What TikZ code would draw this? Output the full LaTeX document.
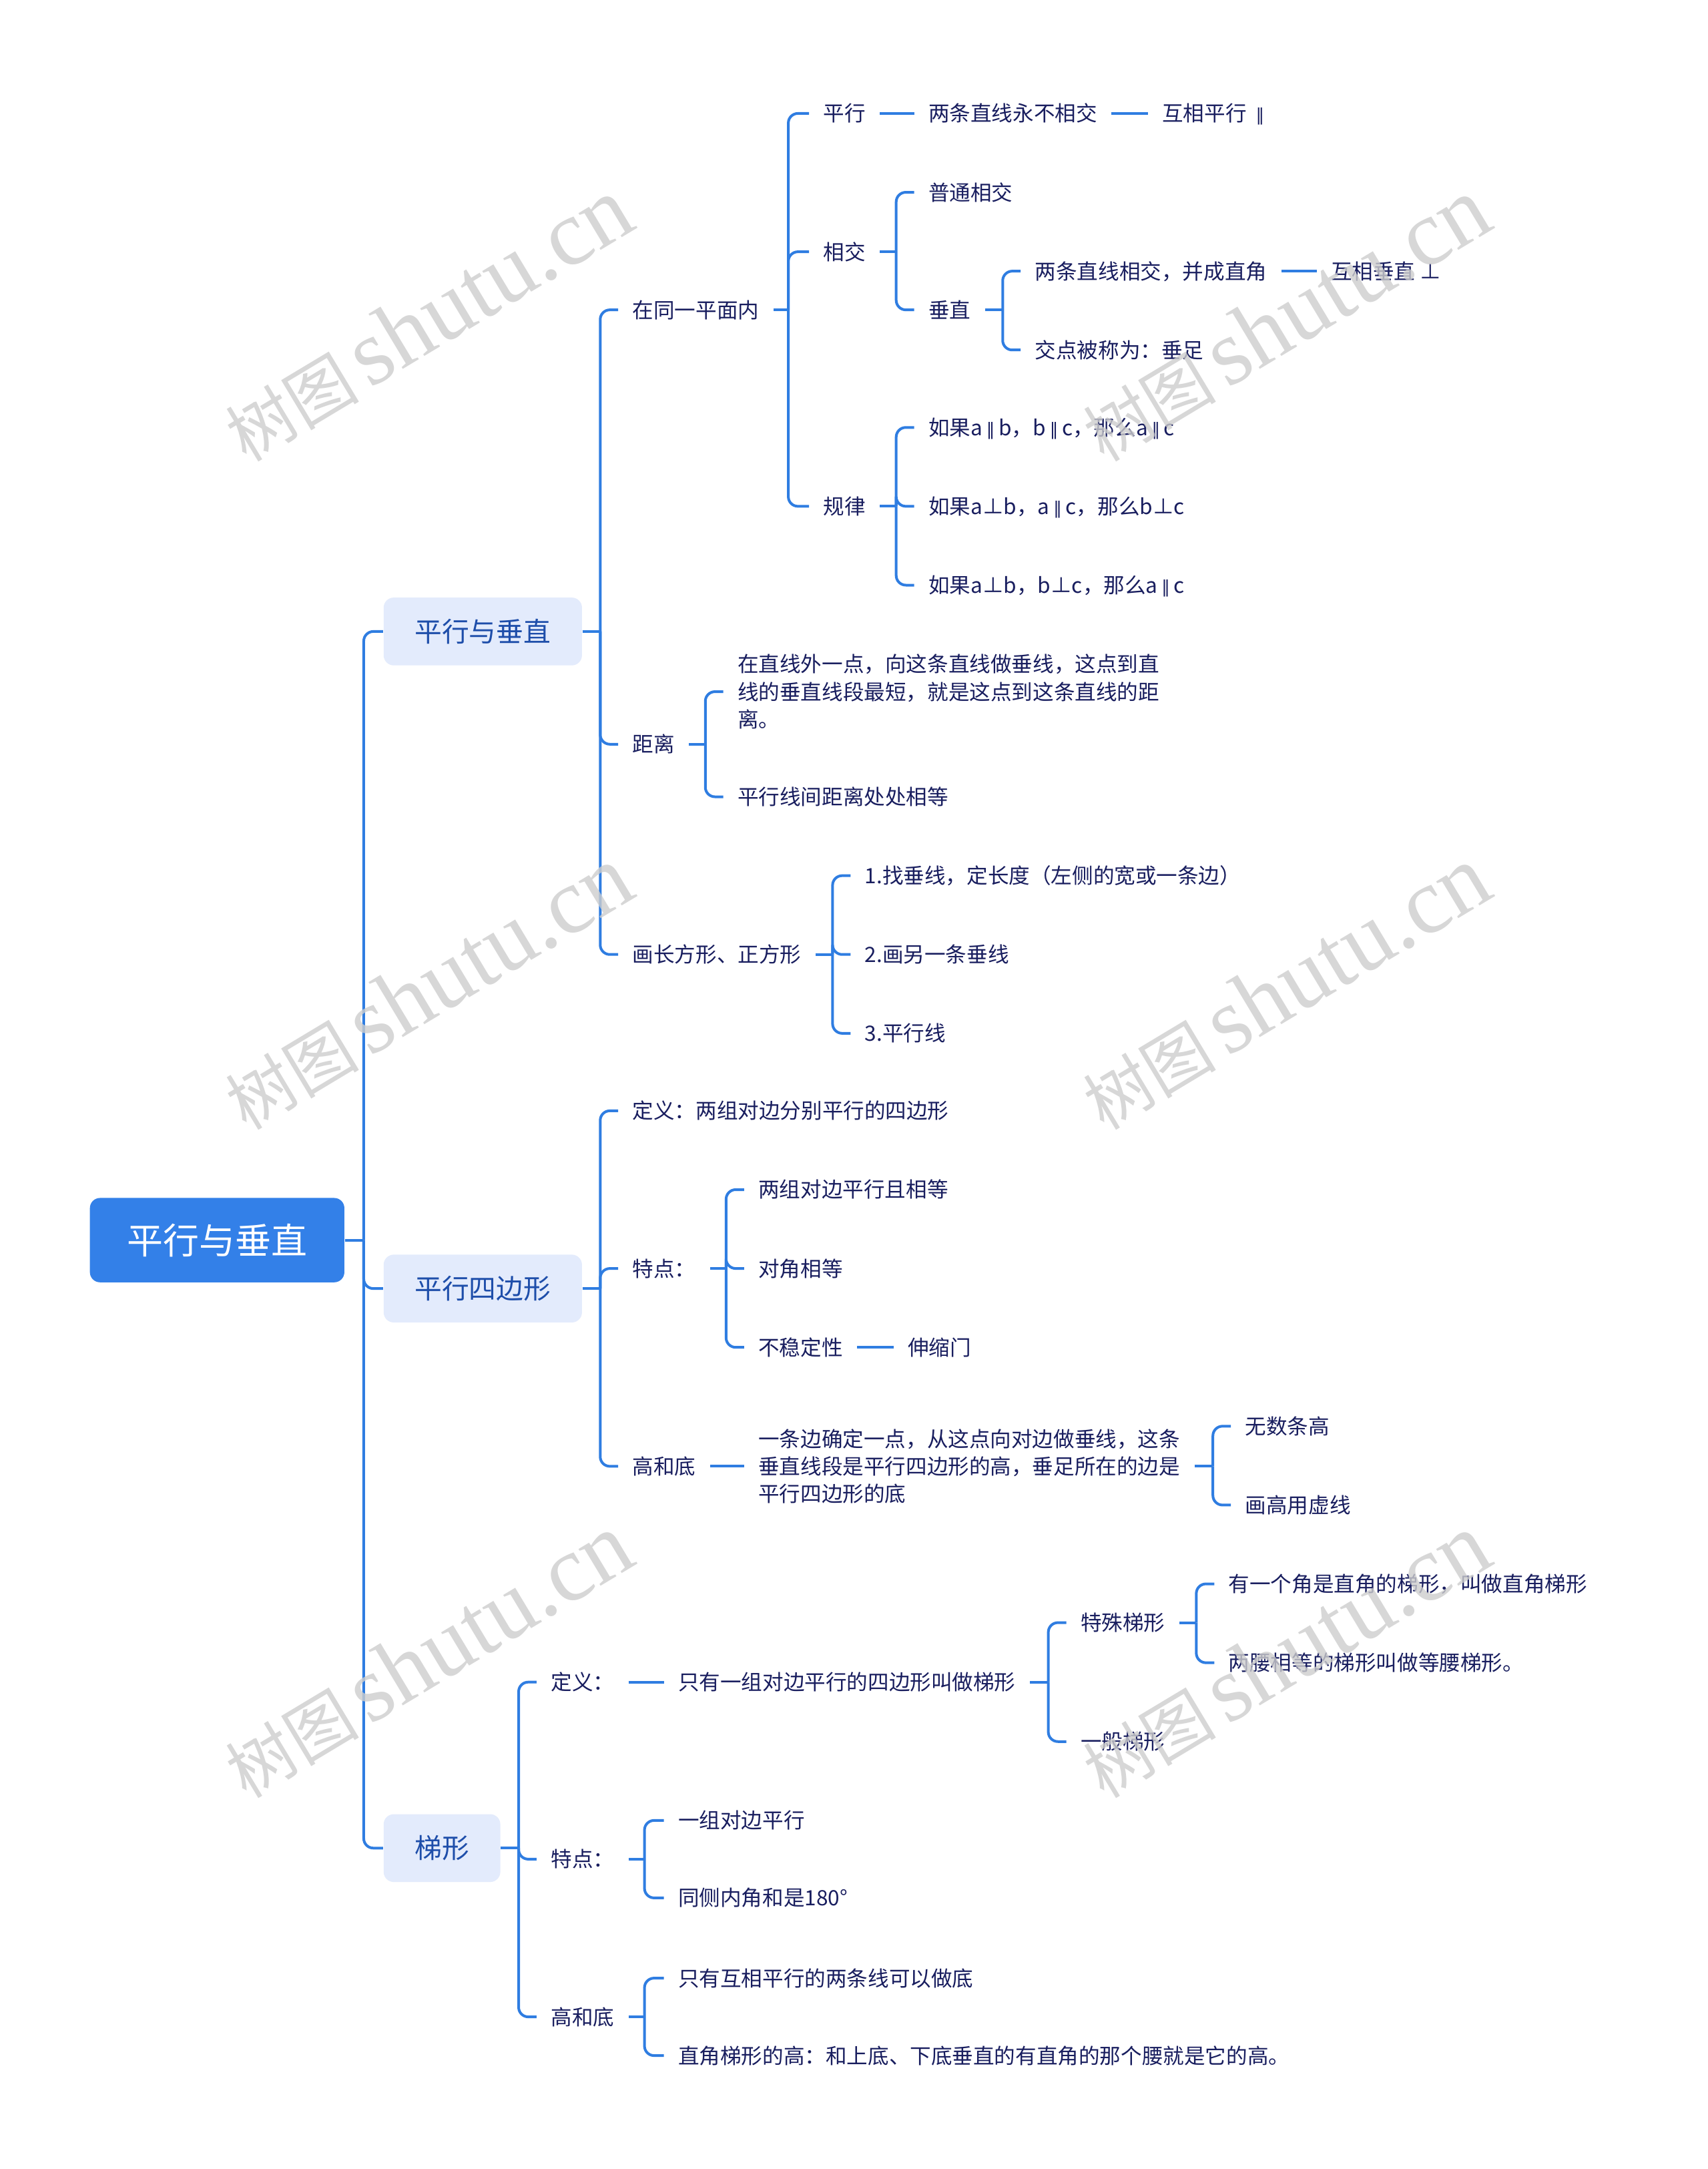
\documentclass[tikz,border=0pt]{standalone}
\usepackage{fontspec}
\setmainfont{Noto Sans CJK SC}
\newfontfamily\wmcjk{Noto Sans CJK SC}
\newfontfamily\wmlat{Liberation Serif}
\newfontfamily\symf{DejaVu Sans}
\newcommand{\pll}{\hspace{1.4pt}{\symf\fontsize{6.5pt}{8pt}\selectfont ∥}\hspace{1.4pt}}
\usetikzlibrary{calc}
\definecolor{lineblue}{RGB}{47,125,225}
\definecolor{rootblue}{RGB}{51,128,232}
\definecolor{subfill}{RGB}{227,235,252}
\definecolor{subtext}{RGB}{30,78,170}
\definecolor{leaftext}{RGB}{25,30,95}
\definecolor{wmgray}{RGB}{205,205,205}
\begin{document}
\begin{tikzpicture}[x=0.5182pt,y=-0.5182pt,
  conn/.style={draw=lineblue,line width=1pt,rounded corners=3.6pt},
  rootnode/.style={fill=rootblue,text=white,rounded corners=3.8pt,
    font=\fontsize{13.5pt}{16pt}\selectfont,minimum width=95.35pt,minimum height=31.6pt,
    inner sep=0pt,text height=11.88pt,text depth=1.62pt},
  subnode/.style={fill=subfill,text=subtext,rounded corners=3.8pt,anchor=west,
    font=\fontsize{10.2pt}{12pt}\selectfont,minimum height=25.4pt,
    inner xsep=11.66pt,inner ysep=0pt,text height=8.98pt,text depth=1.22pt},
  leaf/.style={text=leaftext,font=\fontsize{7.9pt}{10.36pt}\selectfont,
    inner xsep=5.18pt,inner ysep=1pt,anchor=west,text height=6.95pt,text depth=0.95pt},
  multi/.style={text=leaftext,font=\fontsize{7.9pt}{10.36pt}\selectfont,
    inner xsep=5.18pt,inner ysep=1pt,anchor=west,align=left},
  wm/.style={text=wmgray,opacity=0.8,rotate=31,anchor=base west,inner sep=0pt}
]
\fill[white] (0,0) rectangle (1235,1568);
\useasboundingbox (0,0) rectangle (1235,1568);

% root and level 1
\node[rootnode] (root) at (157,896.5) {平行与垂直};
\node[subnode] (A) at (277,456.5) {平行与垂直};
\node[subnode] (B) at (277,931.5) {平行四边形};
\node[subnode] (C) at (277,1336) {梯形};
\coordinate (r0) at (263,896.5);
\draw[conn] (root.east) -- (r0);
\draw[conn] (r0) |- (A.west);
\draw[conn] (r0) |- (B.west);
\draw[conn] (r0) |- (C.west);

% ---------- A ----------
\node[leaf] (a1) at (447,224) {在同一平面内};
\node[leaf] (a2) at (447,538) {距离};
\node[leaf] (a3) at (447,690) {画长方形、正方形};
\coordinate (a0) at (434,456.5);
\draw[conn] (A.east) -- (a0);
\foreach \n in {a1,a2,a3} \draw[conn] (a0) |- (\n.west);

\node[leaf] (p1) at (585,82) {平行};
\node[leaf] (p2) at (585,182) {相交};
\node[leaf] (p3) at (585,366) {规律};
\coordinate (a1b) at (570,224);
\draw[conn] (a1.east) -- (a1b);
\foreach \n in {p1,p2,p3} \draw[conn] (a1b) |- (\n.west);

\node[leaf] (q1) at (661,82) {两条直线永不相交};
\node[leaf] (q2) at (830,82) {互相平行\hspace{2pt}\pll};
\draw[conn] (p1.east) -- (q1.west);
\draw[conn] (q1.east) -- (q2.west);

\node[leaf] (r1) at (661,139) {普通相交};
\node[leaf] (r2) at (661,224) {垂直};
\coordinate (p2b) at (648,182);
\draw[conn] (p2.east) -- (p2b);
\foreach \n in {r1,r2} \draw[conn] (p2b) |- (\n.west);

\node[leaf] (s1) at (738,196) {两条直线相交，并成直角};
\node[leaf] (s2) at (738,253) {交点被称为：垂足};
\node[leaf] (s3) at (952,196) {互相垂直 ⊥};
\coordinate (r2b) at (725,224);
\draw[conn] (r2.east) -- (r2b);
\foreach \n in {s1,s2} \draw[conn] (r2b) |- (\n.west);
\draw[conn] (s1.east) -- (s3.west);

\node[leaf] (t1) at (661,309) {如果a\pll b，b\pll c，那么a\pll c};
\node[leaf] (t2) at (661,366) {如果a⊥b，a\pll c，那么b⊥c};
\node[leaf] (t3) at (661,423) {如果a⊥b，b⊥c，那么a\pll c};
\coordinate (p3b) at (648,366);
\draw[conn] (p3.east) -- (p3b);
\foreach \n in {t1,t2,t3} \draw[conn] (p3b) |- (\n.west);

\node[multi] (u1) at (523,500) {在直线外一点，向这条直线做垂线，这点到直\\线的垂直线段最短，就是这点到这条直线的距\\离。};
\node[leaf] (u2) at (523,576) {平行线间距离处处相等};
\coordinate (a2b) at (510,538);
\draw[conn] (a2.east) -- (a2b);
\foreach \n in {u1,u2} \draw[conn] (a2b) |- (\n.west);

\node[leaf] (v1) at (615,633) {1.找垂线，定长度（左侧的宽或一条边）};
\node[leaf] (v2) at (615,690) {2.画另一条垂线};
\node[leaf] (v3) at (615,747) {3.平行线};
\coordinate (a3b) at (602,690);
\draw[conn] (a3.east) -- (a3b);
\foreach \n in {v1,v2,v3} \draw[conn] (a3b) |- (\n.west);

% ---------- B ----------
\node[leaf] (b1) at (447,803) {定义：两组对边分别平行的四边形};
\node[leaf] (b2) at (447,917) {特点：};
\node[leaf] (b3) at (447,1060) {高和底};
\coordinate (b0) at (434,931.5);
\draw[conn] (B.east) -- (b0);
\foreach \n in {b1,b2,b3} \draw[conn] (b0) |- (\n.west);

\node[leaf] (w1) at (538,860) {两组对边平行且相等};
\node[leaf] (w2) at (538,917) {对角相等};
\node[leaf] (w3) at (538,974) {不稳定性};
\node[leaf] (w4) at (646,974) {伸缩门};
\coordinate (b2b) at (525,917);
\draw[conn] (b2.east) -- (b2b);
\foreach \n in {w1,w2,w3} \draw[conn] (b2b) |- (\n.west);
\draw[conn] (w3.east) -- (w4.west);

\node[multi] (x1) at (538,1060) {一条边确定一点，从这点向对边做垂线，这条\\垂直线段是平行四边形的高，垂足所在的边是\\平行四边形的底};
\draw[conn] (b3.east) -- (x1.west);
\node[leaf] (x2) at (890,1031) {无数条高};
\node[leaf] (x3) at (890,1088) {画高用虚线};
\coordinate (x1b) at (877,1060);
\draw[conn] (x1.east) -- (x1b);
\foreach \n in {x2,x3} \draw[conn] (x1b) |- (\n.west);

% ---------- C ----------
\node[leaf] (c1) at (388,1216) {定义：};
\node[leaf] (c2) at (388,1344) {特点：};
\node[leaf] (c3) at (388,1458) {高和底};
\coordinate (c0) at (375,1336);
\draw[conn] (C.east) -- (c0);
\foreach \n in {c1,c2,c3} \draw[conn] (c0) |- (\n.west);

\node[leaf] (y1) at (480,1216) {只有一组对边平行的四边形叫做梯形};
\draw[conn] (c1.east) -- (y1.west);
\node[leaf] (y2) at (771,1173) {特殊梯形};
\node[leaf] (y3) at (771,1259) {一般梯形};
\coordinate (y1b) at (758,1216);
\draw[conn] (y1.east) -- (y1b);
\foreach \n in {y2,y3} \draw[conn] (y1b) |- (\n.west);
\node[leaf] (y4) at (878,1145) {有一个角是直角的梯形，叫做直角梯形};
\node[leaf] (y5) at (878,1202) {两腰相等的梯形叫做等腰梯形。};
\coordinate (y2b) at (865,1173);
\draw[conn] (y2.east) -- (y2b);
\foreach \n in {y4,y5} \draw[conn] (y2b) |- (\n.west);

\node[leaf] (z1) at (480,1316) {一组对边平行};
\node[leaf] (z2) at (480,1372) {同侧内角和是180°};
\coordinate (c2b) at (466,1344);
\draw[conn] (c2.east) -- (c2b);
\foreach \n in {z1,z2} \draw[conn] (c2b) |- (\n.west);

\node[leaf] (z3) at (480,1430) {只有互相平行的两条线可以做底};
\node[leaf] (z4) at (480,1486) {直角梯形的高：和上底、下底垂直的有直角的那个腰就是它的高。};
\coordinate (c3b) at (466,1458);
\draw[conn] (c3.east) -- (c3b);
\foreach \n in {z3,z4} \draw[conn] (c3b) |- (\n.west);

% ---------- watermarks ----------
\foreach \wx/\wy [count=\i] in {178/335,798/335,178/818,798/818,178/1301,798/1301}
  \node[wm] (wm\i) at (\wx,\wy) {{\wmcjk\fontsize{25pt}{25pt}\selectfont 树图}\hspace{4pt}{\wmlat\fontsize{35pt}{35pt}\selectfont shutu.cn}};
\end{tikzpicture}
\end{document}
